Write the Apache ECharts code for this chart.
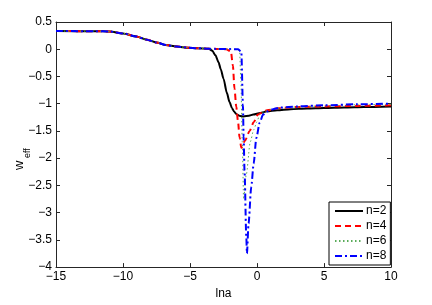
<!DOCTYPE html>
<html>
<head>
<meta charset="utf-8">
<script src="https://cdn.jsdelivr.net/npm/echarts@6/dist/echarts.min.js"></script>
<style>html,body{margin:0;padding:0;background:#fff}#c{width:432px;height:305px}</style>
</head>
<body>
<div id="c"></div>
<script>
var xTicks = [-15, -10, -5, 0, 5, 10];
var yTicks = [0.5, 0, -0.5, -1, -1.5, -2, -2.5, -3, -3.5, -4];
var seriesNames = ['n=2', 'n=4', 'n=6', 'n=8'];

var earlyX = [-15, -12, -11, -10, -9, -8.3, -7.5, -6.8, -6, -5.1, -4.5, -3.6];
var earlyY = [0.333, 0.332, 0.325, 0.29, 0.235, 0.18, 0.125, 0.077, 0.048, 0.029, 0.02, 0.011];

var lna2 = earlyX.concat([-3.35, -3.1, -2.87, -2.7, -2.5, -2.25, -2.05, -1.87, -1.7, -1.5, -1.25, -1.0, -0.6, -0.28, 0.25, 0.75, 1.5, 2.5, 3.75, 5, 6.5, 8, 10]);
var w2 = earlyY.concat([-0.025, -0.11, -0.24, -0.37, -0.54, -0.8, -0.97, -1.08, -1.15, -1.2, -1.225, -1.235, -1.22, -1.2, -1.17, -1.14, -1.12, -1.1, -1.09, -1.08, -1.07, -1.06, -1.05]);

var lna4 = earlyX.concat([-3, -2.3, -1.95, -1.8, -1.68, -1.55, -1.42, -1.3, -1.17, -0.9, -0.55, -0.25, 0.07, 0.4, 0.75, 1.75, 3, 5, 7.5, 10]);
var w4 = earlyY.concat([0.005, 0.0, -0.04, -0.3, -0.72, -1.05, -1.32, -1.62, -1.81, -1.68, -1.5, -1.34, -1.2, -1.16, -1.12, -1.08, -1.06, -1.05, -1.04, -1.03]);

var lna6 = earlyX.concat([-3, -2, -1.5, -1.3, -1.2, -1.1, -1.0, -0.8, -0.5, -0.25, 0, 0.2, 0.6, 1.0, 1.75, 3, 5, 7.5, 10]);
var w6 = earlyY.concat([0.005, 0.003, 0.0, -0.03, -0.6, -1.7, -2.75, -2.3, -1.7, -1.48, -1.33, -1.2, -1.14, -1.11, -1.08, -1.06, -1.04, -1.02, -1.01]);

var lna8 = earlyX.concat([-3, -2, -1.4, -1.17, -1.05, -1.0, -0.93, -0.8, -0.75, -0.63, -0.43, -0.25, -0.05, 0.2, 0.45, 0.8, 1.2, 1.75, 3, 5, 7.5, 10]);
var w8 = earlyY.concat([0.005, 0.003, 0.0, -0.05, -1.02, -1.6, -2.23, -3.44, -3.75, -3.2, -2.53, -2.1, -1.63, -1.35, -1.2, -1.14, -1.1, -1.07, -1.05, -1.03, -1.01, -1.0]);

function pairs(xs, ys) { return xs.map(function (x, i) { return [x, ys[i]]; }); }
function fmt(v) { var s = String(v); return s.charAt(0) === '-' ? '\u2212' + s.slice(1) : s; }

var chart = echarts.init(document.getElementById('c'), null, { renderer: 'canvas' });
var axisCol = '#262626';
var font = 'Liberation Sans, Arial, sans-serif';
var styles = [
  { color: '#000000', width: 2, type: 'solid' },
  { color: '#ff0000', width: 2, type: [6, 4] },
  { color: '#5aac5a', width: 1, type: [1.5, 2.5] },
  { color: '#0000ff', width: 2, type: [7, 3, 2, 3] }
];
var datasets = [pairs(lna2, w2), pairs(lna4, w4), pairs(lna6, w6), pairs(lna8, w8)];

function xAx(pos, showLab) {
  return { type: 'value', min: -15, max: 10, interval: 5, position: pos,
    name: showLab ? 'lna' : '', nameLocation: 'middle', nameGap: 20,
    nameTextStyle: { color: '#000', fontSize: 12, fontFamily: font },
    axisLine: { onZero: false, lineStyle: { color: axisCol, width: 1 } },
    axisTick: { inside: true, length: 4, lineStyle: { color: axisCol } },
    axisLabel: { show: showLab, color: '#000', fontSize: 12, fontFamily: font, margin: 4, formatter: fmt },
    splitLine: { show: false } };
}
function yAx(pos, showLab) {
  return { type: 'value', min: -4, max: 0.5, interval: 0.5, position: pos,
    axisLine: { show: true, onZero: false, lineStyle: { color: axisCol, width: 1 } },
    axisTick: { show: true, inside: true, length: 4, lineStyle: { color: axisCol } },
    axisLabel: { show: showLab, color: '#000', fontSize: 12, fontFamily: font, margin: 4, formatter: fmt },
    splitLine: { show: false } };
}

chart.setOption({
  animation: false,
  backgroundColor: '#fff',
  grid: { left: 56, right: 41, top: 22, bottom: 34, containLabel: false },
  xAxis: [xAx('bottom', true), xAx('top', false)],
  yAxis: [yAx('left', true), yAx('right', false)],
  legend: {
    orient: 'vertical', left: 329, top: 202,
    padding: [3, 4, 3, 5], itemGap: 3, itemWidth: 28, itemHeight: 12,
    backgroundColor: '#fff', borderColor: '#000', borderWidth: 1, borderRadius: 0,
    itemStyle: { opacity: 0 },
    textStyle: { color: '#000', fontSize: 12, fontFamily: font, padding: [0, 0, 0, -2] },
    data: seriesNames
  },
  graphic: [
    { type: 'text', x: 13, y: 170, rotation: Math.PI / 2,
      style: { text: 'w', fontSize: 13, fontFamily: font, fill: '#000' } },
    { type: 'text', x: 23, y: 158, rotation: Math.PI / 2,
      style: { text: 'eff', fontSize: 9, fontFamily: font, fill: '#000' } }
  ],
  series: seriesNames.map(function (n, i) {
    return {
      name: n, type: 'line', data: datasets[i], showSymbol: false, symbol: 'none',
      smooth: 0.25, smoothMonotone: 'x',
      lineStyle: styles[i], itemStyle: { color: styles[i].color }, z: 2 + i
    };
  })
});
</script>
</body>
</html>
